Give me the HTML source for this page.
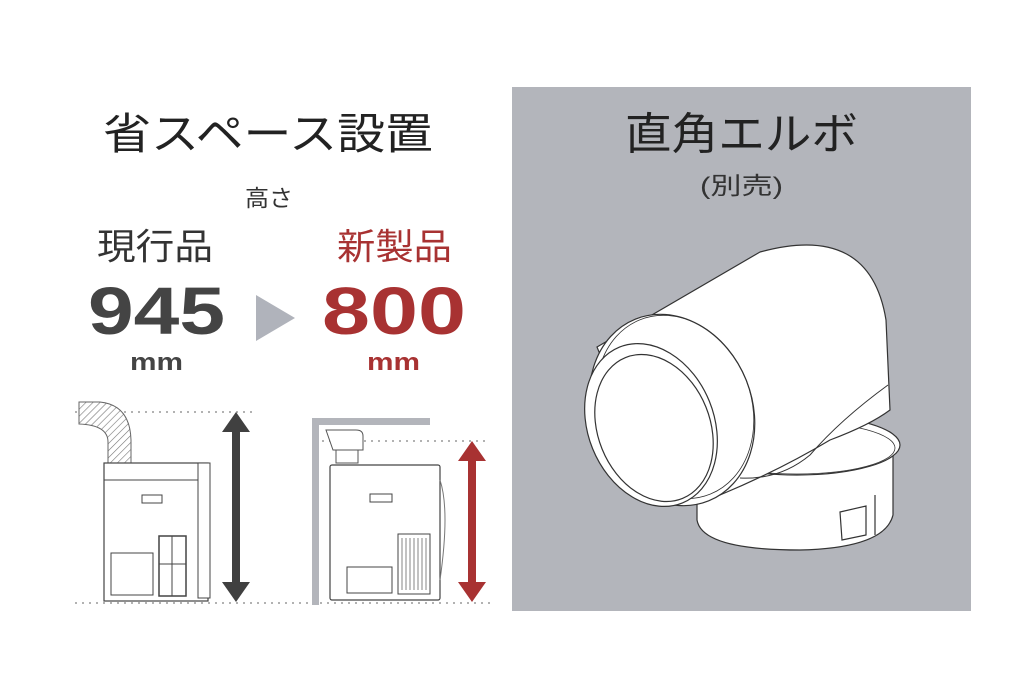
<!DOCTYPE html>
<html><head><meta charset="utf-8"><style>
html,body{margin:0;padding:0;background:#fff;}
svg{display:block;}
text{font-family:"Liberation Sans","Noto Sans CJK JP",sans-serif;}
</style></head><body>
<svg width="1024" height="698" viewBox="0 0 1024 698" xmlns="http://www.w3.org/2000/svg">
<defs>
<pattern id="h" width="5" height="5" patternUnits="userSpaceOnUse" patternTransform="rotate(45)">
<rect width="5" height="5" fill="#fff"/><line x1="0" y1="0" x2="0" y2="5" stroke="#777" stroke-width="1.2"/>
</pattern>
</defs>
<rect width="1024" height="698" fill="#fff"/>
<text x="103" y="149" font-size="43" fill="#222" textLength="330" lengthAdjust="spacingAndGlyphs">省スペース設置</text>
<text x="245" y="206" font-size="23" fill="#333" textLength="48" lengthAdjust="spacingAndGlyphs">高さ</text>
<text x="97" y="259" font-size="36" fill="#333" textLength="116" lengthAdjust="spacingAndGlyphs">現行品</text>
<text x="337" y="259" font-size="36" fill="#a83232" textLength="115" lengthAdjust="spacingAndGlyphs">新製品</text>
<text x="88" y="334" font-size="67" font-weight="bold" fill="#444" textLength="137" lengthAdjust="spacingAndGlyphs">945</text>
<text x="322" y="334" font-size="67" font-weight="bold" fill="#a83232" textLength="144" lengthAdjust="spacingAndGlyphs">800</text>
<text x="130" y="370" font-size="24" font-weight="bold" fill="#444" textLength="53" lengthAdjust="spacingAndGlyphs">mm</text>
<text x="367" y="370" font-size="24" font-weight="bold" fill="#a83232" textLength="53" lengthAdjust="spacingAndGlyphs">mm</text>
<polygon points="256,295 295,318 256,341" fill="#b0b3bb"/>
<line x1="75" y1="412" x2="252" y2="412" stroke="#999" stroke-width="1.6" stroke-dasharray="2 5"/>
<line x1="75" y1="603" x2="490" y2="603" stroke="#999" stroke-width="1.6" stroke-dasharray="2 5"/>
<line x1="322" y1="441" x2="490" y2="441" stroke="#999" stroke-width="1.6" stroke-dasharray="2 5"/>
<path d="M79,402 L100,402 Q130,405 131,440 L131,464 L108,464 L108,442 Q108,425 79,424 Z" fill="url(#h)" stroke="#666" stroke-width="1"/>
<rect x="104" y="463" width="104" height="138" fill="#fff" stroke="#444" stroke-width="1.2"/>
<line x1="104" y1="480" x2="198" y2="480" stroke="#444"/>
<rect x="198" y="463" width="12" height="135" fill="#fff" stroke="#444"/>
<rect x="142" y="495" width="20" height="8" fill="none" stroke="#444"/>
<rect x="111" y="553" width="42" height="42" fill="none" stroke="#444"/>
<rect x="159" y="536" width="27" height="60" fill="none" stroke="#444" stroke-width="1.5"/>
<line x1="172" y1="536" x2="172" y2="596" stroke="#444"/>
<line x1="159" y1="564" x2="186" y2="564" stroke="#444"/>
<polygon points="236,412 250,432 240,432 240,582 250,582 236,602 222,582 232,582 232,432 222,432" fill="#404040"/>
<path d="M312,418 H430 V425 H319 V605 H312 Z" fill="#b3b5bb"/>
<path d="M326,430 h30 q7,0 7,6 v14 h-30 z" fill="#fff" stroke="#555"/>
<rect x="336" y="450" width="22" height="13" fill="#fff" stroke="#555"/>
<rect x="330" y="465" width="110" height="135" rx="2" fill="#fff" stroke="#444" stroke-width="1.2"/>
<path d="M440,480 q10,30 0,100" fill="none" stroke="#777"/>
<rect x="370" y="494" width="22" height="8" fill="none" stroke="#444"/>
<rect x="347" y="567" width="45" height="26" fill="none" stroke="#444"/>
<rect x="398" y="534" width="32" height="60" fill="#fff" stroke="#444"/>
<g stroke="#666" stroke-width="0.8">
<line x1="402" y1="538" x2="402" y2="590"/><line x1="406" y1="538" x2="406" y2="590"/><line x1="410" y1="538" x2="410" y2="590"/><line x1="414" y1="538" x2="414" y2="590"/><line x1="418" y1="538" x2="418" y2="590"/><line x1="422" y1="538" x2="422" y2="590"/><line x1="426" y1="538" x2="426" y2="590"/>
</g>
<polygon points="472,441 486,461 476,461 476,582 486,582 472,602 458,582 468,582 468,461 458,461" fill="#a83232"/>
<rect x="512" y="87" width="459" height="524" fill="#b3b5bb"/>
<text x="625" y="149" font-size="44" fill="#222" textLength="233" lengthAdjust="spacingAndGlyphs">直角エルボ</text>
<text x="700" y="194" font-size="24" fill="#333" textLength="83" lengthAdjust="spacingAndGlyphs">(別売)</text>
<g stroke="#333" stroke-width="1.2" fill="#fff">
<path d="M697,470 L697,520 Q702,550 800,550 Q885,548 893,515 L893,440 Z"/>
<ellipse cx="797" cy="445" rx="103" ry="30"/>
<ellipse cx="797" cy="448" rx="98" ry="26" fill="none" stroke-width="0.8"/>
<path d="M597,347 L760,252 Q870,222 886,320 L890,410 Q870,425 830,440 Q780,470 720,495 L660,500 Z"/>
<path d="M888,385 Q840,420 810,455 Q780,480 740,478" fill="none" stroke-width="1"/>
<ellipse cx="672" cy="410" rx="80" ry="98" transform="rotate(-22 672 410)"/>
<ellipse cx="675" cy="407" rx="76" ry="94" transform="rotate(-22 675 407)" fill="none" stroke-width="0.8"/>
<ellipse cx="651" cy="425" rx="63" ry="84" transform="rotate(-22 651 425)"/>
<ellipse cx="654" cy="428" rx="56" ry="76" transform="rotate(-22 654 428)"/>
<path d="M840,512 L866,506 L866,535 L842,540 Z" fill="none"/>
<path d="M875,495 L875,535" fill="none"/>
</g>
</svg>
</body></html>
